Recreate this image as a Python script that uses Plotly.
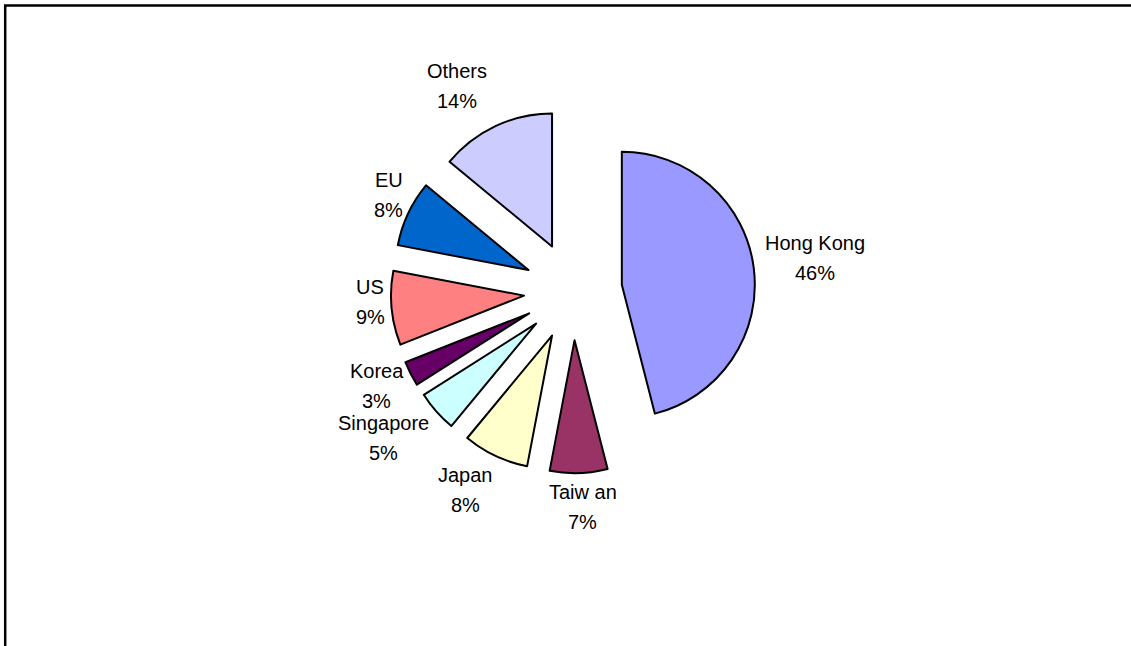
import math
import plotly.graph_objects as go

labels = ["Hong Kong", "Taiw an", "Japan", "Singapore", "Korea", "US", "EU", "Others"]
values = [46, 7, 8, 5, 3, 9, 8, 14]
colors = ["#9999FF", "#993366", "#FFFFCC", "#CCFFFF", "#660066", "#FF8080", "#0066CC", "#CCCCFF"]

W, H = 1131, 646
FONT = "Liberation Sans, Arial, sans-serif"
FS = 20
cx, cy = 573, 291          # pie centre (px)
r_px = 133                 # slice radius (px)
pull = 0.37
half_h = r_px * (1 + pull)
half_w = 226

# small per-label nudges (px) to mimic the original label placement
label_nudge = [(-1, -2), (3, 1), (-12, -3), (-9, -12), (5, -8), (5, -9), (10, -5), (-20, -2)]

# Arial advance widths (1/1000 em) for label-box estimates
AW = {'H': 722, 'o': 556, 'n': 556, 'g': 556, ' ': 278, 'K': 667, 'T': 611, 'a': 556,
      'i': 222, 'w': 722, 'J': 500, 'p': 556, 'S': 667, 'e': 556, 'r': 333, 'k': 500,
      'U': 722, 'E': 667, 'O': 778, 't': 278, 'h': 556, 's': 500, '%': 889}


def text_w(s):
    return sum(AW.get(c, 556) for c in s) / 1000 * FS


fig = go.Figure(go.Pie(
    labels=labels,
    values=values,
    sort=False,
    direction="clockwise",
    rotation=0,
    pull=[pull] * len(values),
    marker=dict(colors=colors, line=dict(color="black", width=2)),
    textinfo="none",
    hoverinfo="label+percent",
    showlegend=False,
    domain=dict(x=[(cx - half_w) / W, (cx + half_w) / W],
                y=[1 - (cy + half_h) / H, 1 - (cy - half_h) / H]),
))

# data labels: label on one line, percent on the next, placed just outside each slice
total = sum(values)
edge = r_px * (1 + pull)
gap, b, line_gap = 10, 22, 15
annotations = []
cum = 0
for lab, v, (ndx, ndy) in zip(labels, values, label_nudge):
    mid = math.radians((cum + v / 2) / total * 360)
    cum += v
    ux, uy = math.sin(mid), -math.cos(mid)
    pct = f"{round(v / total * 100)}%"
    a = max(text_w(lab), text_w(pct)) / 2
    dist = edge + gap + a * abs(ux) + b * abs(uy)
    px, py = cx + dist * ux + ndx, cy + dist * uy + ndy
    for txt, yy in ((lab, py - line_gap), (pct, py + line_gap)):
        annotations.append(dict(x=px / W, y=1 - yy / H, xref="paper", yref="paper",
                                text=txt, showarrow=False, xanchor="center", yanchor="middle",
                                font=dict(family=FONT, size=FS, color="black")))

fig.add_shape(type="rect", xref="paper", yref="paper",
              x0=5.2 / W, y0=-0.1, x1=1.1, y1=1 - 5.5 / H,
              line=dict(color="black", width=2.5), fillcolor="rgba(0,0,0,0)")

fig.update_layout(
    width=W, height=H,
    margin=dict(l=0, r=0, t=0, b=0, pad=0, autoexpand=False),
    paper_bgcolor="white",
    plot_bgcolor="white",
    font=dict(family=FONT, size=FS, color="black"),
    annotations=annotations,
)

fig.write_html("out.html", config={"displayModeBar": False},
               post_script="document.body.style.margin='0';document.body.style.overflow='hidden';")
